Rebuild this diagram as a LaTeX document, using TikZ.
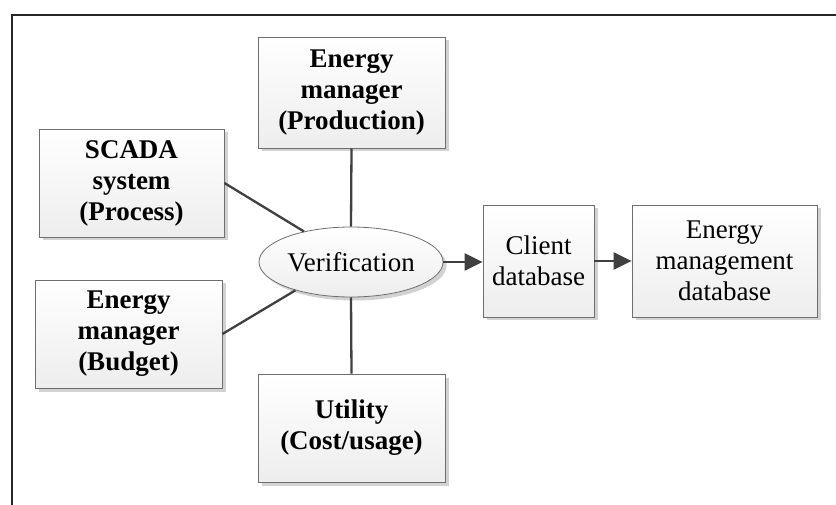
\documentclass[tikz,border=0pt]{standalone}
\usepackage{fontspec}
\setmainfont{Liberation Serif}
\usetikzlibrary{arrows.meta,shadows,shapes.geometric}

\definecolor{linkgray}{HTML}{404040}
\definecolor{edgegray}{HTML}{6E6E6E}
\definecolor{shadegray}{HTML}{D2D2D2}

\tikzset{
  boxbase/.style={draw=edgegray, line width=0.8pt, top color=white, bottom color=gray!14,
    align=center, inner sep=0pt, font=\fontsize{27}{31}\selectfont,
    drop shadow={shadow xshift=3.5pt, shadow yshift=-3.5pt, fill=shadegray, opacity=1}},
  srcbox/.style={boxbase, rectangle, font=\bfseries\fontsize{27}{31}\selectfont},
  dbbox/.style={boxbase, rectangle},
  hub/.style={boxbase, ellipse},
  link/.style={draw=linkgray, line width=2.3pt},
  flow/.style={link, -{Triangle[length=18pt,width=17pt]}},
}

\begin{document}
\begin{tikzpicture}[x=1pt, y=-1pt]
  \useasboundingbox (0,0) rectangle (836,505);

  % frame lines along the top and left
  \draw[line width=2pt, black!85] (12,505) -- (12,15) -- (836,15);

  % source boxes
  \node[srcbox, minimum width=187pt, minimum height=111pt] (prod) at (351.5,92.5)
    {Energy\\manager\\(Production)};
  \node[srcbox, minimum width=185pt, minimum height=108pt] (scada) at (131.5,183)
    {SCADA\\system\\(Process)};
  \node[srcbox, minimum width=187pt, minimum height=108pt] (budget) at (128.5,334)
    {Energy\\manager\\(Budget)};
  \node[srcbox, minimum width=187pt, minimum height=108pt] (util) at (351.5,428)
    {Utility\\(Cost/usage)};

  % central verification step
  \node[hub, minimum width=184pt, minimum height=70pt] (ver) at (351,262) {Verification};

  % databases
  \node[dbbox, minimum width=111pt, minimum height=112pt] (client) at (538.5,261)
    {Client\\database};
  \node[dbbox, minimum width=185pt, minimum height=112pt] (emdb) at (724.5,261)
    {Energy\\management\\database};

  % connectors
  \draw[link] (prod.south) -- (ver.north);
  \draw[link] (util.north) -- (ver.south);
  \draw[link] (scada.east) -- (ver.147);
  \draw[link] (budget.east) -- (ver.207);
  \draw[flow] (ver.east) -- (ver.east -| client.west);
  \draw[flow] (client.east) -- (client.east -| emdb.west);
\end{tikzpicture}
\end{document}
